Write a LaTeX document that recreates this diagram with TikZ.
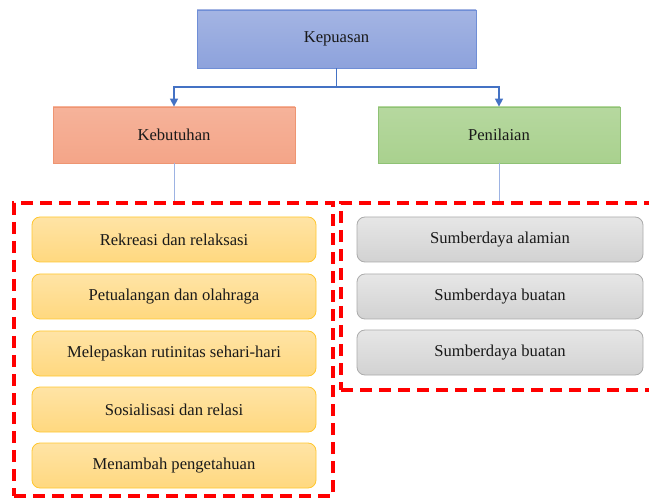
\documentclass[tikz,border=0pt]{standalone}
\usepackage{fontspec}
\setmainfont{Liberation Serif}
\usetikzlibrary{arrows.meta}
\definecolor{kepblue}{HTML}{8DA2DC}
\definecolor{kepline}{HTML}{4472C4}
\definecolor{kepedge}{HTML}{6F8ED6}
\definecolor{kebsalmon}{HTML}{F4A588}
\definecolor{kebedge}{HTML}{EE9572}
\definecolor{pengreen}{HTML}{A9D18E}
\definecolor{penedge}{HTML}{8FC275}
\definecolor{itemyellow}{HTML}{FFD87F}
\definecolor{itemedge}{HTML}{FFC730}
\definecolor{itemgrey}{HTML}{D2D2D2}
\definecolor{greyedge}{HTML}{ABABAB}
\definecolor{thinblue}{HTML}{9DB3E3}
\definecolor{groupred}{HTML}{FF0000}
\begin{document}
\begin{tikzpicture}[x=1pt,y=-1pt,
	font=\fontsize{16.6}{19}\selectfont, text=black!90,
	headbox/.style={rectangle, draw, line width=0.8pt, minimum width=242pt, minimum height=56pt},
	itembox/.style={rectangle, rounded corners=8pt, draw, line width=0.8pt, minimum height=45pt},
	yellowbox/.style={itembox, minimum width=284pt, draw=itemedge, top color=itemyellow!70!white, bottom color=itemyellow},
	greybox/.style={itembox, minimum width=286pt, draw=greyedge, top color=itemgrey!55!white, bottom color=itemgrey},
	groupbox/.style={rectangle, draw=groupred, line width=4.5pt, dash pattern=on 12pt off 7pt, inner sep=0pt},
	branch/.style={draw=kepline, line width=1.5pt, -{Triangle[length=8pt,width=8pt]}},
	stem/.style={draw=thinblue, line width=1pt}]
	\useasboundingbox (0,0) rectangle (649,500);
	% groups
	\node (G1) at (173.5, 349.5)	[groupbox, minimum width=319pt, minimum height=293pt]	{};
	\node (G2) at (496.5, 296.5)	[groupbox, minimum width=311pt, minimum height=187pt]	{};
	% heads
	\node (K)  at (336.5,  39)	[headbox, minimum width=279pt, minimum height=58pt, draw=kepedge, top color=kepblue!80!white, bottom color=kepblue]	{Kepuasan};
	\node (B)  at (174, 135)	[headbox, draw=kebedge, top color=kebsalmon!85!white, bottom color=kebsalmon]	{Kebutuhan};
	\node (P)  at (499, 135)	[headbox, draw=penedge, top color=pengreen!85!white, bottom color=pengreen]	{Penilaian};
	% needs
	\node (B1) at (174, 239.5)	[yellowbox]	{Rekreasi dan relaksasi};
	\node (B2) at (174, 296.5)	[yellowbox]	{Petualangan dan olahraga};
	\node (B3) at (174, 353.5)	[yellowbox]	{Melepaskan rutinitas sehari-hari};
	\node (B4) at (174, 409.5)	[yellowbox]	{Sosialisasi dan relasi};
	\node (B5) at (174, 465.5)	[yellowbox]	{Menambah pengetahuan};
	% resources
	\node (P1) at (500, 239.5)	[greybox]	{Sumberdaya alamian};
	\node (P2) at (500, 296.5)	[greybox]	{Sumberdaya buatan};
	\node (P3) at (500, 352.5)	[greybox]	{Sumberdaya buatan};
	% connectors
	\coordinate (J) at (336.5, 87);
	\draw[branch] (K.south) -- (J) -| (B.north);
	\draw[branch] (K.south) -- (J) -| (P.north);
	\draw[stem] (B.south) -- (B.south |- G1.north);
	\draw[stem] (P.south) -- (P.south |- G2.north);
\end{tikzpicture}
\end{document}
